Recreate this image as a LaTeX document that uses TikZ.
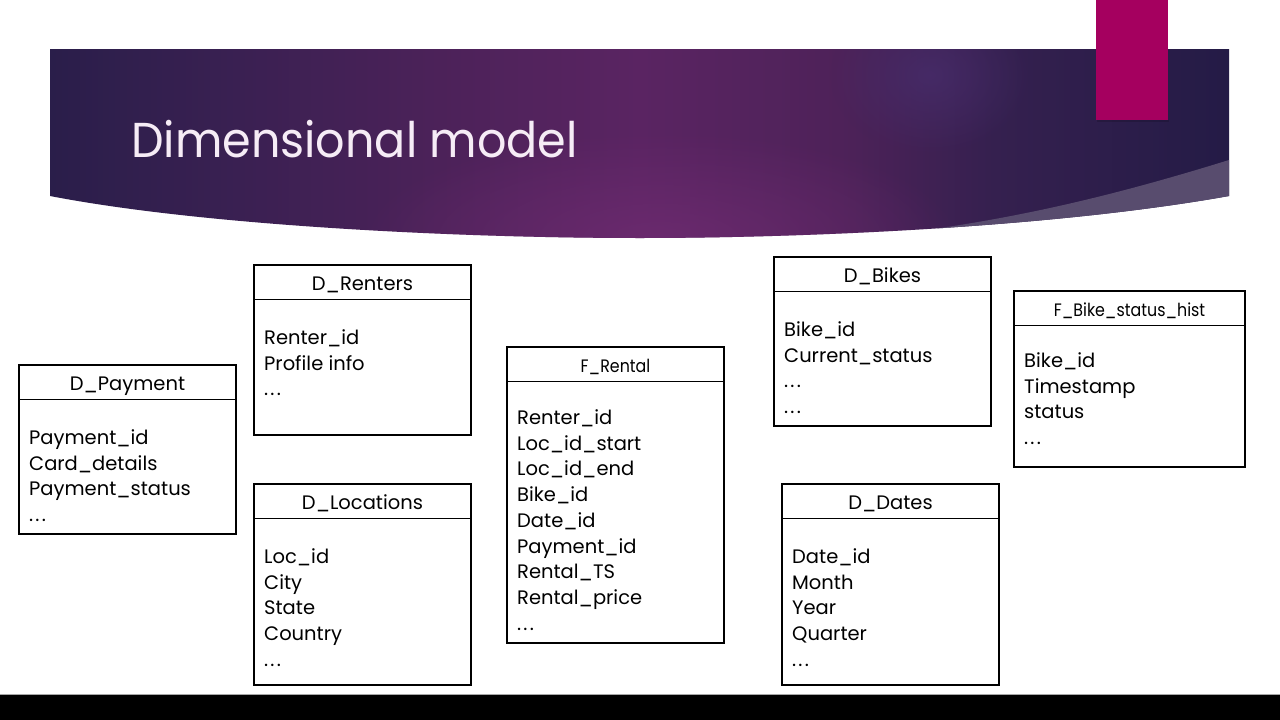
\documentclass[tikz,border=0pt]{standalone}
\usepackage{fontspec}
\setmainfont{Poppins}
\usetikzlibrary{fadings}
\definecolor{magentabar}{RGB}{165,0,95}
\definecolor{titlecol}{RGB}{246,236,246}
\definecolor{bandcol}{RGB}{88,76,110}
\definecolor{glowcol}{RGB}{112,44,114}
\definecolor{glowblue}{RGB}{72,46,110}
\definecolor{bgA}{RGB}{42,30,74}
\definecolor{bgB}{RGB}{58,32,82}
\definecolor{bgC}{RGB}{76,34,89}
\definecolor{bgD}{RGB}{90,36,98}
\definecolor{bgE}{RGB}{78,34,89}
\definecolor{bgF}{RGB}{53,32,79}
\definecolor{bgG}{RGB}{36,27,70}
\pgfdeclarehorizontalshading{banner}{100bp}{%
  color(0bp)=(bgA); color(25bp)=(bgA); color(33bp)=(bgB); color(41.5bp)=(bgC);
  color(50bp)=(bgD); color(58.5bp)=(bgE); color(65bp)=(bgF); color(75bp)=(bgG); color(100bp)=(bgG)}
\tikzfading[name=glowfade, inner color=transparent!0, outer color=transparent!100]
\newcommand\tdots{.\kern2.2pt.\kern2.2pt.}
\newcommand\dbtable[8]{%
  \node[tbox, anchor=north west, minimum width={(#4-#2)*1pt}, minimum height={(#5-#3)*1pt}, inner sep=0pt, outer sep=0pt] (#1) at (#2,#3) {};
  \draw[tline] ([yshift=-34.5pt]#1.north west) -- ([yshift=-34.5pt]#1.north east);
  \node[ttl] (#1-t) at ([yshift=-25.5pt]#1.north) {#6};
  \foreach \l [count=\i] in {#7} {\node[fld] (#1-\i) at ([xshift=10pt, yshift={-#8pt-(\i-1)*25.7pt}]#1.north west) {\l};}
}
\begin{document}
\begin{tikzpicture}[x=1pt,y=-1pt,
  tbox/.style={draw=black, line width=1.8pt},
  tline/.style={draw=black, line width=1.8pt},
  ttl/.style={font=\fontsize{19.5}{24}\selectfont, anchor=base, inner sep=0pt},
  fld/.style={font=\fontsize{19.5}{24}\selectfont, anchor=base west, inner sep=0pt}]
\useasboundingbox (0,0) rectangle (1280,720);
\fill[white] (0,0) rectangle (1280,720);
% banner
\shade[shading=banner] (50,49) -- (1229,49) -- (1229,196) .. controls (1050,228) and (800,238) .. (640,238) .. controls (450,238) and (200,225) .. (50,196) -- cycle;
\begin{scope}
  \clip (50,49) -- (1229,49) -- (1229,196) .. controls (1050,228) and (800,238) .. (640,238) .. controls (450,238) and (200,225) .. (50,196) -- cycle;
  \fill[glowcol, path fading=glowfade, opacity=0.75] (660,240) ellipse (300 and 110);
  \fill[glowblue, path fading=glowfade, opacity=0.7] (930,75) ellipse (100 and 80);
  \fill[bandcol] (1229,160) .. controls (1100,200) and (1000,222) .. (880,236) -- (880,270) -- (1240,270) -- cycle;
\end{scope}
\fill[black, opacity=0.15] (1097,120) rectangle (1169,122);
\fill[magentabar] (1096,0) rectangle (1168,120);
\node[anchor=base west, text=titlecol, font=\fontsize{49}{58}\selectfont, inner sep=0pt] (title) at (131,157) {\scalebox{0.94}[1]{Dimensional model}};
% tables
\dbtable{pay}{19}{365}{236}{534}{D\_Payment}{Payment\_id,Card\_details,Payment\_status,\tdots}{79.5}
\dbtable{ren}{254}{265}{471}{435}{D\_Renters}{Renter\_id,Profile info,\tdots}{79.5}
\dbtable{loc}{254}{484}{471}{685}{D\_Locations}{Loc\_id,City,State,Country,\tdots}{79.5}
\dbtable{rent}{507}{347}{724}{643}{\fontsize{18}{21}\selectfont\scalebox{0.88}[1]{F\_Rental}}{Renter\_id,Loc\_id\_start,Loc\_id\_end,Bike\_id,Date\_id,Payment\_id,Rental\_TS,Rental\_price,\tdots}{77.5}
\dbtable{bike}{774}{257}{991}{426}{D\_Bikes}{Bike\_id,Current\_status,\tdots,\tdots}{79.5}
\dbtable{hist}{1014}{291}{1245}{467}{\fontsize{18}{21}\selectfont\scalebox{0.88}[1]{F\_Bike\_status\_hist}}{Bike\_id,Timestamp,status,\tdots}{76.5}
\dbtable{date}{782}{484}{999}{685}{D\_Dates}{Date\_id,Month,Year,Quarter,\tdots}{79.5}
% bottom bar
\fill[black] (0,695) rectangle (1280,720);
\draw[gray!70, line width=1pt] (0,694.5) -- (1280,694.5);
\end{tikzpicture}
\end{document}
